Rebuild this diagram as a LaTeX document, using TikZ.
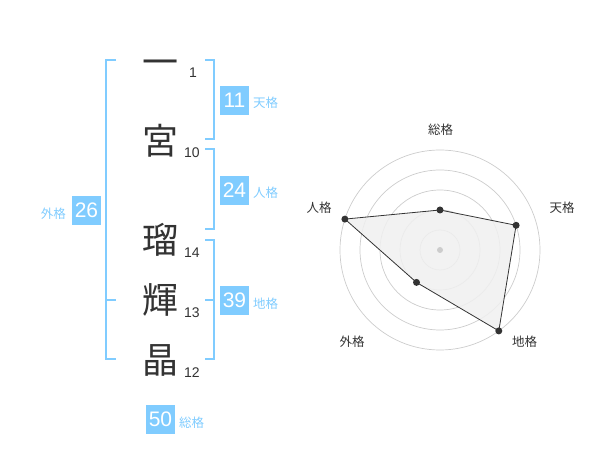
\documentclass[tikz,border=0pt]{standalone}
\usepackage{fontspec}
\setmainfont{Noto Sans CJK JP}
\newfontfamily\numfont{Liberation Sans}
\definecolor{kblue}{RGB}{128,204,255}
\definecolor{kdark}{RGB}{51,51,51}
\definecolor{kgrid}{RGB}{204,204,204}
\definecolor{kfill}{RGB}{240,240,240}
\begin{document}
\begin{tikzpicture}[x=1pt,y=-1pt,
  kanji/.style={inner sep=0pt,font=\fontsize{36}{36}\selectfont,text=kdark},
  strokes/.style={inner sep=0pt,font=\numfont\fontsize{14}{14}\selectfont,text=kdark},
  valbox/.style={fill=kblue,minimum width=29pt,minimum height=29pt,inner sep=0pt,text=white,font=\numfont\fontsize{21}{21}\selectfont},
  kakulabel/.style={inner sep=0pt,font=\fontsize{12.5}{12.5}\selectfont,text=kblue},
  bracket/.style={draw=kblue,line width=2pt},
  ring/.style={draw=kgrid,line width=0.7pt},
  axislabel/.style={inner sep=0pt,font=\fontsize{12.5}{12.5}\selectfont,text=kdark},
  dot/.style={circle,fill=kdark,inner sep=0pt,minimum size=7pt}
]
\useasboundingbox (0,0) rectangle (600,470);
% characters
\node[kanji] (c1) at (160,68) {一};
\node[kanji] (c2) at (160,141) {宮};
\node[kanji] (c3) at (160,240) {瑠};
\node[kanji] (c4) at (160,300) {輝};
\node[kanji] (c5) at (160,360) {晶};
% stroke counts
\node[strokes] (s1) at (193,73) {1};
\node[strokes] (s2) at (192,153) {10};
\node[strokes] (s3) at (192,253) {14};
\node[strokes] (s4) at (192,313) {13};
\node[strokes] (s5) at (192,373) {12};
% brackets
\draw[bracket] (116,60) -- (106,60) -- (106,359) -- (116,359);
\draw[bracket] (106,300) -- (116,300);
\draw[bracket] (205,60) -- (214,60) -- (214,139) -- (205,139);
\draw[bracket] (205,149) -- (214,149) -- (214,229) -- (205,229);
\draw[bracket] (205,240) -- (214,240) -- (214,359) -- (205,359);
\draw[bracket] (205,300) -- (214,300);
% value boxes
\node[valbox] (ten) at (234.5,100.5) {11};
\node[kakulabel,anchor=west] (tenL) at (253,103) {天格};
\node[valbox] (jin) at (234.5,190.5) {24};
\node[kakulabel,anchor=west] (jinL) at (253,193) {人格};
\node[valbox] (gai) at (86.5,210.5) {26};
\node[kakulabel,anchor=east] (gaiL) at (66,214) {外格};
\node[valbox] (chi) at (234.5,300.5) {39};
\node[kakulabel,anchor=west] (chiL) at (253,304) {地格};
\node[valbox] (sou) at (160.5,419.5) {50};
\node[kakulabel,anchor=west] (souL) at (179,423) {総格};
% radar chart
\coordinate (C) at (440,250);
\foreach \r in {20,40,60,80,100} \draw[ring] (C) circle (\r);
\coordinate (pS) at (440,210);
\coordinate (pT) at (516.1,225.3);
\coordinate (pC) at (498.8,330.9);
\coordinate (pG) at (416.5,282.4);
\coordinate (pJ) at (344.9,219.1);
\fill[kfill,opacity=0.85] (pS) -- (pT) -- (pC) -- (pG) -- (pJ) -- cycle;
\draw[kdark,line width=0.8pt] (pS) -- (pT) -- (pC) -- (pG) -- (pJ) -- cycle;
\node[circle,fill=kgrid,inner sep=0pt,minimum size=6pt] (cdot) at (C) {};
\node[dot] (dS) at (pS) {};
\node[dot] (dT) at (pT) {};
\node[dot] (dC) at (pC) {};
\node[dot] (dG) at (pG) {};
\node[dot] (dJ) at (pJ) {};
\node[axislabel] (lS) at (440.5,130) {総格};
\node[axislabel] (lT) at (562,208) {天格};
\node[axislabel] (lC) at (524.5,342) {地格};
\node[axislabel] (lG) at (352,342) {外格};
\node[axislabel] (lJ) at (319,208) {人格};
\end{tikzpicture}
\end{document}
